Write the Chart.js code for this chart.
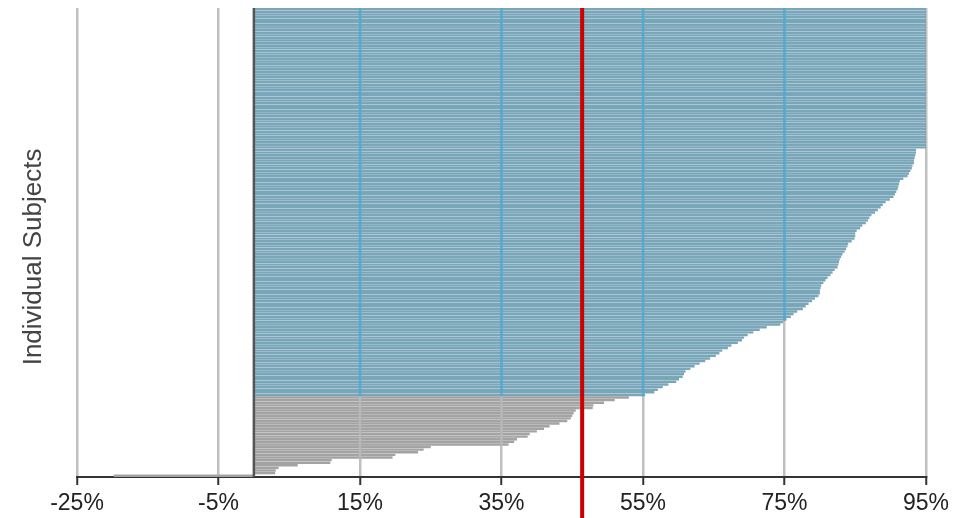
<!DOCTYPE html>
<html>
<head>
<meta charset="utf-8">
<script src="https://cdn.jsdelivr.net/npm/chart.js@4.4.1/dist/chart.umd.min.js"></script>
<style>
  html, body { margin: 0; padding: 0; background: #fff; }
</style>
</head>
<body>
<canvas id="subjChart" width="974" height="518"></canvas>
<script>
// percent change per subject, sorted, top of chart first
const subjectValues = [
  95, 95, 95, 95, 95, 95, 95, 95, 95, 95,
  95, 95, 95, 95, 95, 95, 95, 95, 95, 95,
  95, 95, 95, 95, 95, 95, 95, 95, 95, 95,
  95, 95, 95, 95, 95, 95, 95, 95, 95, 95,
  95, 95, 95, 95, 95, 95, 95, 95, 95, 95,
  95, 95, 95, 95,
  93.6, 93.6, 93.5, 93.4, 93.3, 93.3, 93.1, 93.0, 92.8, 92.6,
  92.4, 91.8, 91.3, 91.2, 91.1, 91.0, 90.8, 90.6, 90.4, 89.9,
  89.3, 88.9, 88.6, 88.2, 87.8, 87.3, 87.0, 86.8, 86.5, 86.0,
  85.7, 85.2, 85.0, 85.0, 84.9, 84.5, 84.0, 83.9, 83.7, 83.5,
  83.2, 83.0, 82.8, 82.7, 82.6, 82.5, 82.1, 81.8, 81.5, 81.1,
  80.8, 80.5, 80.2, 80.1, 80.0, 80.0, 79.8, 79.3, 78.9, 78.4,
  78.0, 77.6, 76.8, 76.3, 75.9, 75.3, 74.8, 74.4, 72.5, 71.5,
  70.6, 69.8, 69.3, 69.0, 68.4, 67.5, 67.0, 66.2, 65.8, 65.3,
  64.5, 63.8, 63.0, 62.3, 61.7, 61.0, 60.8, 60.6, 60.1, 59.7,
  58.6, 57.8, 57.1, 56.6, 55.3,
  53.0, 51.0, 49.5, 48.0, 47.9, 45.5, 45.2, 45.0, 44.8, 44.3,
  43.2, 41.8, 41.0, 40.0, 39.0, 38.7, 37.2, 36.8, 36.0, 25.0,
  24.0, 23.2, 20.0, 19.6, 11.0, 10.8, 6.2, 3.5, 3.1, 3.0,
  -19.8
];
const subjectLabels = subjectValues.map((v, i) => 'Subject ' + (i + 1));
const tickVals = [-25, -5, 15, 35, 55, 75, 95];
const meanLine = 46.4;
const responderCut = 54;

const blueBar = '#7aa6b9';
const grayBar = '#a3a3a3';

const barColors = subjectValues.map(v => v >= responderCut ? blueBar : grayBar);

// grid segments over bars, zero line and mean line
const overlayPlugin = {
  id: 'overlay',
  afterDatasetsDraw(chart) {
    const ctx = chart.ctx;
    const xs = chart.scales.x;
    const ys = chart.scales.y;
    const area = chart.chartArea;
    const meta = chart.getDatasetMeta(0);
    const slot = (ys.bottom - ys.top) / subjectValues.length;
    ctx.save();
    ctx.lineWidth = 2.5;
    tickVals.forEach(t => {
      if (t <= 0) return;
      const px = xs.getPixelForValue(t);
      meta.data.forEach((bar, i) => {
        const v = subjectValues[i];
        if (v <= t) return;
        ctx.strokeStyle = v >= responderCut ? '#52a9d3' : '#b9b9b9';
        ctx.beginPath();
        ctx.moveTo(px, bar.y - slot / 2);
        ctx.lineTo(px, bar.y + slot / 2);
        ctx.stroke();
      });
    });
    const zx = xs.getPixelForValue(0);
    ctx.strokeStyle = '#555';
    ctx.lineWidth = 2.5;
    ctx.beginPath();
    ctx.moveTo(zx, area.top);
    ctx.lineTo(zx, area.bottom);
    ctx.stroke();

    const mx = xs.getPixelForValue(meanLine);
    ctx.strokeStyle = '#cc0000';
    ctx.lineWidth = 4;
    ctx.beginPath();
    ctx.moveTo(mx, area.top);
    ctx.lineTo(mx, chart.height);
    ctx.stroke();
    ctx.restore();
  }
};

new Chart(document.getElementById('subjChart'), {
  type: 'bar',
  data: {
    labels: subjectLabels,
    datasets: [{
      data: subjectValues,
      backgroundColor: barColors,
      borderWidth: 0,
      barPercentage: 0.93,
      categoryPercentage: 1.0
    }]
  },
  options: {
    indexAxis: 'y',
    responsive: false,
    animation: false,
    layout: { padding: { left: 18, right: 48, top: 8, bottom: -4 } },
    plugins: {
      legend: { display: false },
      tooltip: { enabled: false }
    },
    scales: {
      x: {
        type: 'linear',
        min: -25,
        max: 95,
        afterBuildTicks: s => { s.ticks = tickVals.map(v => ({ value: v })); },
        grid: {
          color: '#c0c0c0',
          lineWidth: 2.5,
          tickColor: '#333',
          tickLength: 8,
          tickWidth: 2
        },
        border: { display: true, color: '#333', width: 2 },
        ticks: {
          color: '#222',
          padding: 7,
          maxRotation: 0,
          font: { family: '"Liberation Sans", Arial, sans-serif', size: 23, lineHeight: 1.0 },
          callback: v => v + '%'
        }
      },
      y: {
        type: 'category',
        grid: { display: false },
        border: { display: false },
        ticks: { display: false },
        title: {
          display: true,
          text: 'Individual Subjects\u00a0\u00a0\u00a0\u00a0',
          color: '#444',
          padding: { top: 0, bottom: 19.8 },
          font: { family: '"Liberation Sans", Arial, sans-serif', size: 26, lineHeight: 1.2 }
        }
      }
    }
  },
  plugins: [overlayPlugin]
});
</script>
</body>
</html>
